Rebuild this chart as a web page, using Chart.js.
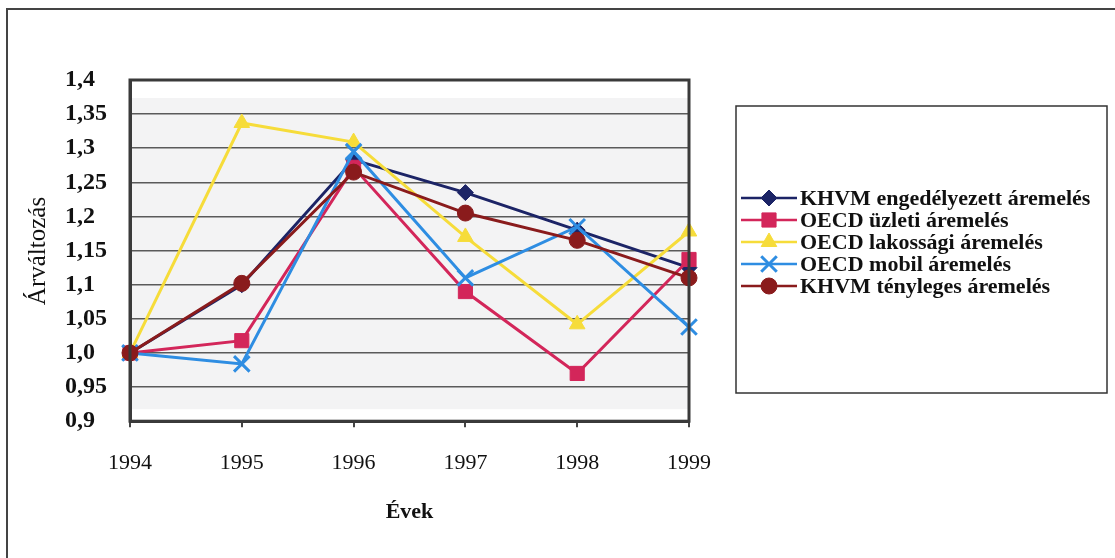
<!DOCTYPE html>
<html>
<head>
<meta charset="utf-8">
<script src="https://cdn.jsdelivr.net/npm/chart.js@4/dist/chart.umd.min.js"></script>
<style>
  html, body { margin: 0; padding: 0; background: #fff; }
  #wrap { width: 1115px; height: 558px; }
</style>
</head>
<body>
<div id="wrap"><canvas id="chart" width="1115" height="558"></canvas></div>
<script>
const years = ['1994', '1995', '1996', '1997', '1998', '1999'];

const khvmEngedelyezett = [1.0, 1.10, 1.283, 1.235, 1.18, 1.125];
const oecdUzleti = [1.0, 1.018, 1.272, 1.09, 0.97, 1.137];
const oecdLakossagi = [1.0, 1.337, 1.309, 1.17, 1.042, 1.178];
const oecdMobil = [1.0, 0.984, 1.295, 1.11, 1.185, 1.038];
const khvmTenyleges = [1.0, 1.102, 1.265, 1.205, 1.165, 1.11];

const seriesNames = [
    'KHVM engedélyezett áremelés',
    'OECD üzleti áremelés',
    'OECD lakossági áremelés',
    'OECD mobil áremelés',
    'KHVM tényleges áremelés'
];

const yTickLabels = ['0,9', '0,95', '1,0', '1,05', '1,1', '1,15', '1,2', '1,25', '1,3', '1,35', '1,4'];

const yTitle = 'Árváltozás';
const xTitle = 'Évek';

const serif = "'Liberation Serif', 'DejaVu Serif', serif";

function makeSet(i, data, color, style, radius) {
    return {
        label: seriesNames[i],
        data: data,
        borderColor: color,
        backgroundColor: color,
        borderWidth: 3,
        pointStyle: style,
        pointRadius: radius,
        pointBorderWidth: style === 'crossRot' ? 3 : 1,
        pointBorderColor: color,
        pointBackgroundColor: color,
        tension: 0,
        order: 4 - i
    };
}

// frame, plot background, y title and the boxed legend
const decor = {
    id: 'decor',
    beforeDraw(chart) {
        const c = chart.ctx;
        const a = chart.chartArea;
        c.save();
        c.fillStyle = '#f3f3f4';
        c.fillRect(a.left, a.top + 18, a.right - a.left, a.bottom - a.top - 30);
        c.restore();
    },
    afterDraw(chart) {
        const c = chart.ctx;
        const a = chart.chartArea;
        c.save();

        // outer frame (top and left edges)
        c.strokeStyle = '#444';
        c.lineWidth = 2;
        c.beginPath();
        c.moveTo(1115, 9);
        c.lineTo(7, 9);
        c.lineTo(7, 558);
        c.stroke();

        // plot border
        c.strokeStyle = '#3a3a3a';
        c.lineWidth = 3;
        c.strokeRect(a.left, a.top, a.right - a.left, a.bottom - a.top);

        // y axis title
        c.fillStyle = '#111';
        c.font = '25px ' + serif;
        c.textAlign = 'center';
        c.textBaseline = 'middle';
        c.translate(38, 251);
        c.rotate(-Math.PI / 2);
        c.fillText(yTitle, 0, 0);
        c.restore();

        // legend box
        c.save();
        c.strokeStyle = '#333';
        c.lineWidth = 1.5;
        c.strokeRect(736, 106, 371, 287);
        c.font = 'bold 22px ' + serif;
        c.textBaseline = 'middle';
        c.textAlign = 'left';
        chart.data.datasets.forEach((ds, i) => {
            const y = 198 + i * 22;
            c.strokeStyle = ds.borderColor;
            c.lineWidth = 2.5;
            c.beginPath();
            c.moveTo(741, y);
            c.lineTo(797, y);
            c.stroke();
            c.fillStyle = ds.borderColor;
            c.lineWidth = ds.pointStyle === 'crossRot' ? 3 : 1;
            Chart.helpers.drawPoint(c, { pointStyle: ds.pointStyle, radius: ds.pointRadius, borderWidth: c.lineWidth }, 769, y);
            c.fillStyle = '#111';
            c.fillText(ds.label, 800, y + 1);
        });
        c.restore();
    }
};

const ctx = document.getElementById('chart').getContext('2d');

new Chart(ctx, {
    type: 'line',
    data: {
        labels: years,
        datasets: [
            makeSet(0, khvmEngedelyezett, '#1c2466', 'rectRot', 8),
            makeSet(1, oecdUzleti, '#d3265a', 'rect', 10),
            makeSet(2, oecdLakossagi, '#f6dc3a', 'triangle', 9),
            makeSet(3, oecdMobil, '#2e8de2', 'crossRot', 11),
            makeSet(4, khvmTenyleges, '#8a1b1c', 'circle', 8)
        ]
    },
    options: {
        responsive: false,
        animation: false,
        layout: { padding: { left: 65, right: 426, top: 80, bottom: 32 } },
        plugins: {
            legend: { display: false },
            tooltip: { enabled: false }
        },
        scales: {
            x: {
                offset: false,
                grid: { drawOnChartArea: false, drawTicks: true, tickLength: 6, color: '#444', lineWidth: 2 },
                border: { display: true, color: '#3a3a3a', width: 3 },
                ticks: { color: '#111', font: { family: serif, size: 22 }, padding: 23, maxRotation: 0 },
                title: { display: true, text: xTitle, color: '#111', font: { family: serif, size: 22, weight: 'bold' }, padding: { top: 0, bottom: 0 } }
            },
            y: {
                min: 0.9,
                max: 1.4,
                afterFit(scale) { scale.width = 65; },
                grid: { color: '#5a5a5a', lineWidth: 1.5, drawTicks: false },
                border: { display: true, color: '#3a3a3a', width: 3 },
                ticks: {
                    stepSize: 0.05,
                    crossAlign: 'far',
                    color: '#111',
                    font: { family: serif, size: 24, weight: 'bold' },
                    callback: (v, i) => yTickLabels[i]
                }
            }
        }
    },
    plugins: [decor]
});
</script>
</body>
</html>
